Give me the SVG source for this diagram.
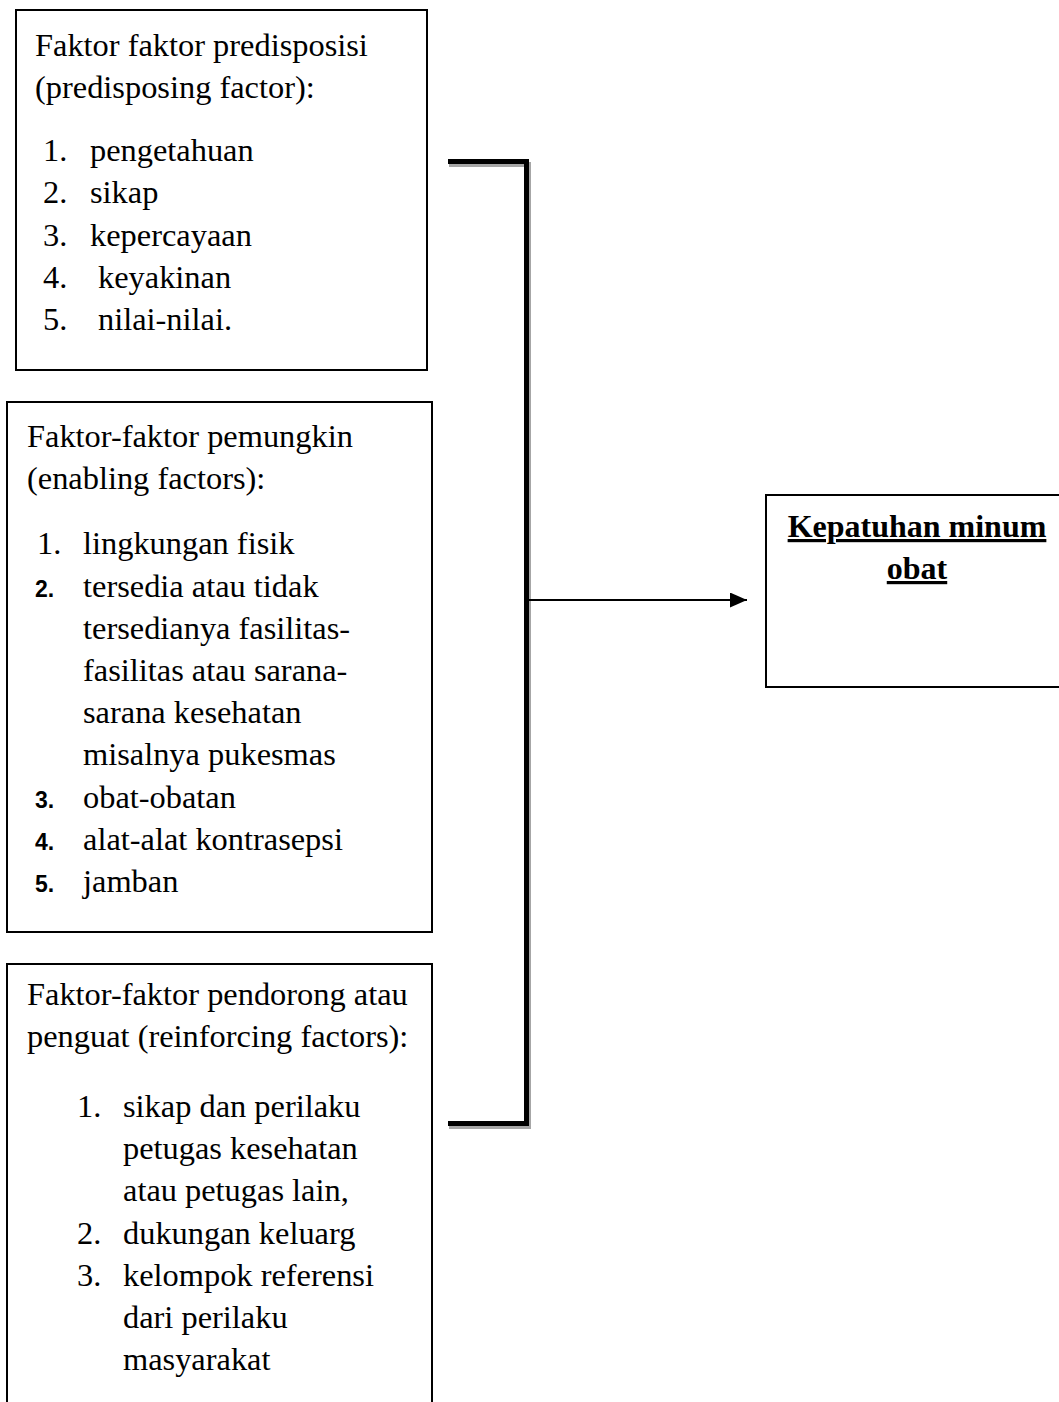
<svg xmlns="http://www.w3.org/2000/svg" width="1059" height="1402" viewBox="0 0 1059 1402">
<style>
.box{fill:#fff;stroke:#000;stroke-width:2}
.t{font-family:"Liberation Serif","Times New Roman",serif;font-size:32.4px;fill:#000}
.b{font-family:"Liberation Sans",Arial,sans-serif;font-size:23px;font-weight:bold;fill:#000}
.h{font-family:"Liberation Serif","Times New Roman",serif;font-size:32px;font-weight:bold;fill:#000;text-anchor:middle;text-decoration:underline}
.br{fill:none;stroke:#000;stroke-width:5;stroke-linejoin:miter;stroke-linecap:butt}
.sh{fill:none;stroke:#a6a6a6;stroke-width:5;stroke-linejoin:miter}
</style>
<defs>
<marker id="ah" markerWidth="17" markerHeight="15" refX="17" refY="7.5" orient="auto" markerUnits="userSpaceOnUse">
<path d="M0,0 L17,7.5 L0,15 Z" fill="#000"/>
</marker>
</defs>
<rect width="1059" height="1402" fill="#fff"/>
<g id="predisposing">
<rect class="box" x="16" y="10" width="411" height="360"/>
<text class="t" x="35" y="56">Faktor faktor predisposisi</text>
<text class="t" x="35" y="98">(predisposing factor):</text>
<text class="t" x="43" y="161">1.</text><text class="t" x="90" y="161">pengetahuan</text>
<text class="t" x="43" y="203">2.</text><text class="t" x="90" y="203">sikap</text>
<text class="t" x="43" y="246">3.</text><text class="t" x="90" y="246">kepercayaan</text>
<text class="t" x="43" y="288">4.</text><text class="t" x="98" y="288">keyakinan</text>
<text class="t" x="43" y="330">5.</text><text class="t" x="98" y="330">nilai-nilai.</text>
</g>
<g id="enabling">
<rect class="box" x="7" y="402" width="425" height="530"/>
<text class="t" x="27" y="447">Faktor-faktor pemungkin</text>
<text class="t" x="27" y="489">(enabling factors):</text>
<text class="t" x="37" y="554">1.</text><text class="t" x="83" y="554">lingkungan fisik</text>
<text class="b" x="35" y="597">2.</text><text class="t" x="83" y="597">tersedia atau tidak</text>
<text class="t" x="83" y="639">tersedianya fasilitas-</text>
<text class="t" x="83" y="681">fasilitas atau sarana-</text>
<text class="t" x="83" y="723">sarana kesehatan</text>
<text class="t" x="83" y="765">misalnya pukesmas</text>
<text class="b" x="35" y="808">3.</text><text class="t" x="83" y="808">obat-obatan</text>
<text class="b" x="35" y="850">4.</text><text class="t" x="83" y="850">alat-alat kontrasepsi</text>
<text class="b" x="35" y="892">5.</text><text class="t" x="83" y="892">jamban</text>
</g>
<g id="reinforcing">
<rect class="box" x="7" y="964" width="425" height="460"/>
<text class="t" x="27" y="1005">Faktor-faktor pendorong atau</text>
<text class="t" x="27" y="1047">penguat (reinforcing factors):</text>
<text class="t" x="77" y="1117">1.</text><text class="t" x="123" y="1117">sikap dan perilaku</text>
<text class="t" x="123" y="1159">petugas kesehatan</text>
<text class="t" x="123" y="1201">atau petugas lain,</text>
<text class="t" x="77" y="1244">2.</text><text class="t" x="123" y="1244">dukungan keluarg</text>
<text class="t" x="77" y="1286">3.</text><text class="t" x="123" y="1286">kelompok referensi</text>
<text class="t" x="123" y="1328">dari perilaku</text>
<text class="t" x="123" y="1370">masyarakat</text>
</g>
<g id="kepatuhan">
<rect class="box" x="766" y="495" width="310" height="192"/>
<text class="h" x="917" y="537">Kepatuhan minum</text>
<text class="h" x="917" y="579">obat</text>
</g>
<g id="connectors">
<path class="sh" d="M449,164.5 H528.5 V1126.5 H449"/>
<path class="br" d="M448,161.5 H526.5 V1123.5 H448"/>
<line x1="529" y1="600" x2="747" y2="600" stroke="#000" stroke-width="2" marker-end="url(#ah)"/>
</g>
</svg>
